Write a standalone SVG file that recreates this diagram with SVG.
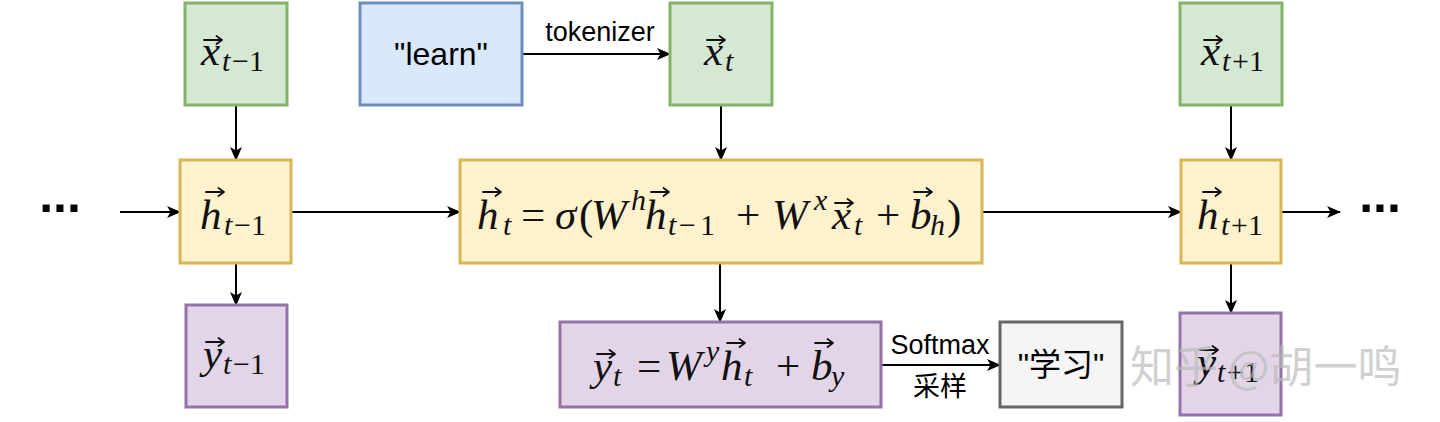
<svg xmlns="http://www.w3.org/2000/svg" xmlns:xlink="http://www.w3.org/1999/xlink" width="1440" height="422" viewBox="0 0 1440 422">
<defs>
<marker id="ah" viewBox="0 0 14 12" refX="13" refY="6" markerWidth="14" markerHeight="12" markerUnits="userSpaceOnUse" orient="auto">
<path d="M0,0 L14,6 L0,12 L3.5,6 z" fill="#000"/>
</marker>
<path id="vec" d="M-9,0 H8 M3.5,-4 L9,0 L3.5,4" fill="none" stroke="#111" stroke-width="1.8" stroke-linecap="round" stroke-linejoin="round"/>
<style>
.g{fill:#d5e8d4;stroke:#82b366;stroke-width:3}
.b{fill:#dae8fc;stroke:#6c8ebf;stroke-width:3}
.y{fill:#fff2cc;stroke:#d6b656;stroke-width:3}
.p{fill:#e1d5e7;stroke:#9673a6;stroke-width:3}
.gr{fill:#f5f5f5;stroke:#666666;stroke-width:3}
.c{stroke:#000;stroke-width:2;fill:none;marker-end:url(#ah)}
.m{font-family:"Liberation Serif","DejaVu Serif",serif;font-size:43px;fill:#111}
.i{font-style:italic}
.s{font-size:30px}
.t{font-family:"Liberation Sans",Arial,"Noto Sans CJK SC",sans-serif;fill:#000}
</style>
</defs>
<rect width="1440" height="422" fill="#fff"/>
<g id="connectors">
<path class="c" d="M120,212 L180,212"/>
<path class="c" d="M291,212 L460,212"/>
<path class="c" d="M982,212 L1181,212"/>
<path class="c" d="M1281,212 L1340,212"/>
<path class="c" d="M236,105 L236,160"/>
<path class="c" d="M721,105 L721,160"/>
<path class="c" d="M1231,105 L1231,160"/>
<path class="c" d="M236,263 L236,305"/>
<path class="c" d="M720,263 L720,322"/>
<path class="c" d="M1231,263 L1231,313"/>
<path class="c" d="M522,54 L670,54"/>
<path class="c" d="M881,365 L1000,365"/>
<text class="t" x="600" y="41" font-size="27" text-anchor="middle">tokenizer</text>
<text class="t" x="940" y="354" font-size="27" text-anchor="middle">Softmax</text>
<text class="t" x="940" y="396" font-size="27" text-anchor="middle">采样</text>
</g>
<g id="dots-left"><text class="t" x="60" y="212" font-size="50" font-weight="bold" text-anchor="middle">...</text></g>
<g id="dots-right"><text class="t" x="1380" y="212" font-size="50" font-weight="bold" text-anchor="middle">...</text></g>
<g id="x_tm1"><rect class="g" x="185" y="3" width="102" height="102"/>
<text class="m"><tspan class="i" x="201" y="65">x</tspan><tspan class="s i" x="222" y="71">t</tspan><tspan class="s" x="232" y="71">−1</tspan></text>
<use xlink:href="#vec" x="213" y="40"/></g>
<g id="learn"><rect class="b" x="360" y="3" width="162" height="102"/>
<text class="t" x="441" y="65" font-size="32" text-anchor="middle">"learn"</text></g>
<g id="x_t"><rect class="g" x="670" y="3" width="102" height="102"/>
<text class="m"><tspan class="i" x="704" y="65">x</tspan><tspan class="s i" x="725" y="71">t</tspan></text>
<use xlink:href="#vec" x="716" y="40"/></g>
<g id="x_tp1"><rect class="g" x="1180" y="3" width="102" height="102"/>
<text class="m"><tspan class="i" x="1201" y="65">x</tspan><tspan class="s i" x="1222" y="71">t</tspan><tspan class="s" x="1232" y="71">+1</tspan></text>
<use xlink:href="#vec" x="1213" y="40"/></g>
<g id="h_tm1"><rect class="y" x="180" y="160" width="111" height="103"/>
<text class="m"><tspan class="i" x="200" y="229">h</tspan><tspan class="s i" x="224" y="235">t</tspan><tspan class="s" x="234" y="235">−1</tspan></text>
<use xlink:href="#vec" x="215" y="192"/></g>
<g id="h_t"><rect class="y" x="460" y="160" width="522" height="103"/>
<text class="m"><tspan class="i" x="477" y="229">h</tspan><tspan class="s i" x="503" y="235">t</tspan><tspan x="521" y="229">=</tspan><tspan class="i" x="555" y="229">σ</tspan><tspan x="579" y="229">(</tspan><tspan class="i" x="591" y="229">W</tspan><tspan class="s i" x="631" y="210">h</tspan><tspan class="i" x="645" y="229">h</tspan><tspan class="s i" x="668" y="235">t</tspan><tspan class="s" x="679" y="235">−</tspan><tspan class="s" x="700" y="235">1</tspan><tspan x="736" y="229">+</tspan><tspan class="i" x="772" y="229">W</tspan><tspan class="s i" x="814" y="210">x</tspan><tspan class="i" x="832" y="229">x</tspan><tspan class="s i" x="854" y="235">t</tspan><tspan x="876" y="229">+</tspan><tspan class="i" x="910" y="229">b</tspan><tspan class="s i" x="930" y="235">h</tspan><tspan x="947" y="229">)</tspan></text>
<use xlink:href="#vec" x="492" y="192"/>
<use xlink:href="#vec" x="660" y="192"/>
<use xlink:href="#vec" x="844" y="203"/>
<use xlink:href="#vec" x="923" y="192"/></g>
<g id="h_tp1"><rect class="y" x="1181" y="160" width="100" height="103"/>
<text class="m"><tspan class="i" x="1197" y="229">h</tspan><tspan class="s i" x="1221" y="235">t</tspan><tspan class="s" x="1231" y="235">+1</tspan></text>
<use xlink:href="#vec" x="1212" y="192"/></g>
<g id="y_tm1"><rect class="p" x="186" y="305" width="101" height="102"/>
<text class="m"><tspan class="i" x="203" y="368">y</tspan><tspan class="s i" x="223" y="374">t</tspan><tspan class="s" x="233" y="374">−1</tspan></text>
<use xlink:href="#vec" x="215" y="342"/></g>
<g id="y_t"><rect class="p" x="560" y="322" width="321" height="85"/>
<text class="m"><tspan class="i" x="593" y="380">y</tspan><tspan class="s i" x="613" y="386">t</tspan><tspan x="637" y="380">=</tspan><tspan class="i" x="666" y="380">W</tspan><tspan class="s i" x="706" y="361">y</tspan><tspan class="i" x="721" y="380">h</tspan><tspan class="s i" x="744" y="386">t</tspan><tspan x="776" y="380">+</tspan><tspan class="i" x="811" y="380">b</tspan><tspan class="s i" x="831" y="386">y</tspan></text>
<use xlink:href="#vec" x="606" y="354"/>
<use xlink:href="#vec" x="736" y="343"/>
<use xlink:href="#vec" x="824" y="343"/></g>
<g id="xuexi"><rect class="gr" x="1000" y="322" width="122" height="85"/>
<text class="t" x="1061" y="376" font-size="32" text-anchor="middle">"学习"</text></g>
<g id="y_tp1"><rect class="p" x="1180" y="313" width="101" height="102"/>
<text class="m"><tspan class="i" x="1197" y="376">y</tspan><tspan class="s i" x="1217" y="382">t</tspan><tspan class="s" x="1227" y="382">+1</tspan></text>
<use xlink:href="#vec" x="1209" y="350"/></g>
<g id="watermark"><text x="1130" y="383" font-family="'Noto Sans CJK SC',sans-serif" font-size="44" fill="#bbbbbb" fill-opacity="0.7">知乎 @胡一鸣</text></g>
</svg>
